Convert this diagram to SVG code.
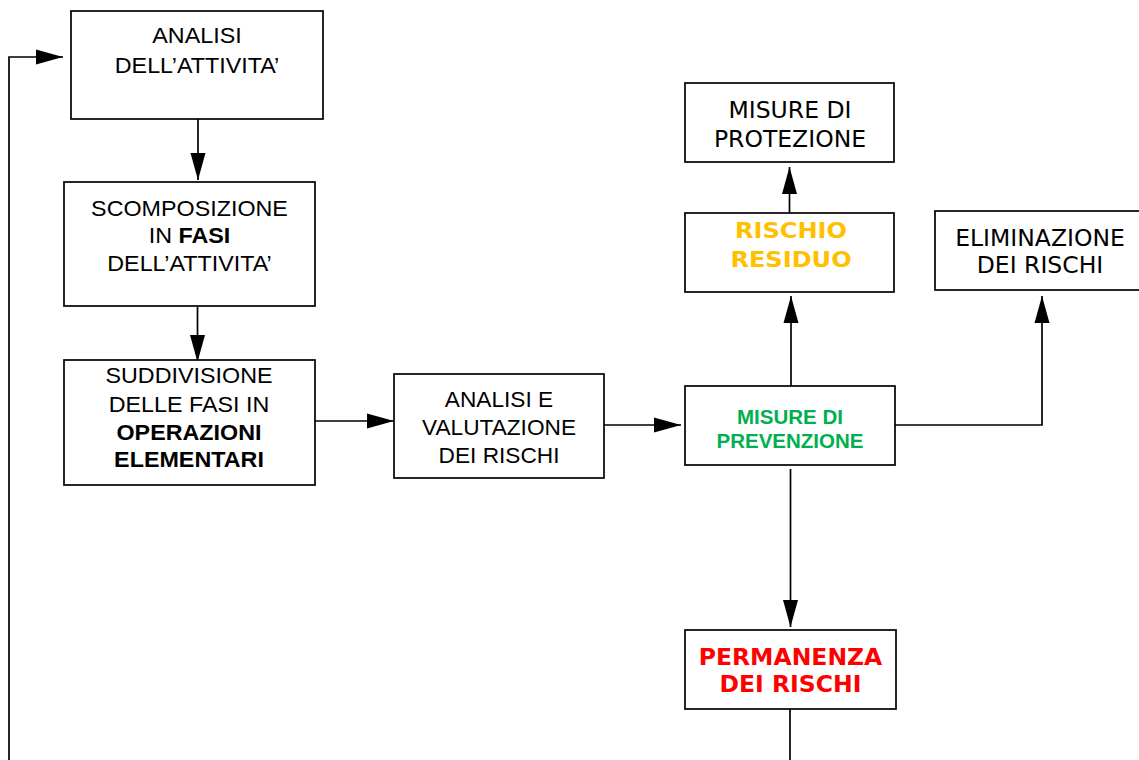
<svg xmlns="http://www.w3.org/2000/svg" width="1139" height="760" viewBox="0 0 1139 760">
  <style>
    .box { fill: #ffffff; stroke: #000000; stroke-width: 1.7; }
    .conn { fill: none; stroke: #000000; stroke-width: 1.7; }
    .arial { font-family: "Liberation Sans", Arial, sans-serif; font-size: 22px; fill: #000000; text-anchor: middle; }
    .b { font-weight: bold; }
    .verd { font-family: "DejaVu Sans", Verdana, sans-serif; font-size: 23.5px; fill: #000000; text-anchor: middle; }
    .verdb { font-family: "DejaVu Sans", Verdana, sans-serif; font-weight: bold; text-anchor: middle; }
    .green { font-family: "Liberation Sans", Arial, sans-serif; font-weight: bold; font-size: 20.5px; fill: #00B050; text-anchor: middle; }
  </style>
  <defs>
    <marker id="arrow" markerUnits="userSpaceOnUse" markerWidth="28" markerHeight="16" refX="27" refY="8" orient="auto">
      <path d="M0,0.5 L27,8 L0,15.5 z" fill="#000000"/>
    </marker>
  </defs>
  <rect width="1139" height="760" fill="#ffffff"/>

  <g id="connectors">
    <polyline class="conn" points="9,760 9,57 63,57" marker-end="url(#arrow)"/>
    <line class="conn" x1="198" y1="119" x2="198" y2="180" marker-end="url(#arrow)"/>
    <line class="conn" x1="197.5" y1="307" x2="197.5" y2="362" marker-end="url(#arrow)"/>
    <line class="conn" x1="315" y1="421" x2="394" y2="421" marker-end="url(#arrow)"/>
    <line class="conn" x1="602" y1="425" x2="681" y2="425" marker-end="url(#arrow)"/>
    <line class="conn" x1="791" y1="386" x2="791" y2="296" marker-end="url(#arrow)"/>
    <line class="conn" x1="789.5" y1="213" x2="789.5" y2="167" marker-end="url(#arrow)"/>
    <polyline class="conn" points="895,425 1042,425 1042,296" marker-end="url(#arrow)"/>
    <line class="conn" x1="790.5" y1="469" x2="790.5" y2="627" marker-end="url(#arrow)"/>
    <line class="conn" x1="790" y1="709" x2="790" y2="760"/>
  </g>

  <g id="analisi-attivita">
    <rect class="box" x="71" y="11" width="252" height="108"/>
    <g transform="translate(197 0) scale(1.06 1)">
      <text class="arial" x="0" y="43.5">ANALISI</text>
      <text class="arial" x="0" y="73">DELL’ATTIVITA’</text>
    </g>
  </g>

  <g id="scomposizione">
    <rect class="box" x="64" y="182" width="251" height="124"/>
    <g transform="translate(189.5 0) scale(1.06 1)">
      <text class="arial" x="0" y="216">SCOMPOSIZIONE</text>
      <text class="arial" x="0" y="243.5">IN <tspan class="b">FASI</tspan></text>
      <text class="arial" x="0" y="271">DELL’ATTIVITA’</text>
    </g>
  </g>

  <g id="suddivisione">
    <rect class="box" x="64" y="360" width="251" height="125"/>
    <g transform="translate(189 0) scale(1.06 1)">
      <text class="arial" x="0" y="383.5">SUDDIVISIONE</text>
      <text class="arial" x="0" y="412">DELLE FASI IN</text>
      <text class="arial b" x="0" y="440">OPERAZIONI</text>
      <text class="arial b" x="0" y="467">ELEMENTARI</text>
    </g>
  </g>

  <g id="analisi-valutazione">
    <rect class="box" x="394" y="374" width="210" height="104"/>
    <g transform="translate(499 0) scale(1.03 1)">
      <text class="arial" x="0" y="407">ANALISI E</text>
      <text class="arial" x="0" y="435">VALUTAZIONE</text>
      <text class="arial" x="0" y="463">DEI RISCHI</text>
    </g>
  </g>

  <g id="misure-protezione">
    <rect class="box" x="685" y="83" width="209" height="79"/>
    <text class="verd" x="790" y="118">MISURE DI</text>
    <text class="verd" x="790" y="147">PROTEZIONE</text>
  </g>

  <g id="rischio-residuo">
    <rect class="box" x="685" y="213" width="209" height="79"/>
    <g transform="translate(791 0) scale(1.12 1)">
      <text class="verdb" x="0" y="238" font-size="21.5" fill="#FFC000">RISCHIO</text>
      <text class="verdb" x="0" y="267" font-size="21.5" fill="#FFC000">RESIDUO</text>
    </g>
  </g>

  <g id="eliminazione">
    <rect class="box" x="935" y="211" width="210" height="79"/>
    <text class="verd" x="1040" y="246">ELIMINAZIONE</text>
    <text class="verd" x="1040" y="273">DEI RISCHI</text>
  </g>

  <g id="misure-prevenzione">
    <rect class="box" x="685" y="386" width="210" height="79"/>
    <text class="green" x="790" y="424">MISURE DI</text>
    <text class="green" x="790" y="448">PREVENZIONE</text>
  </g>

  <g id="permanenza">
    <rect class="box" x="685" y="630" width="211" height="79"/>
    <text class="verdb" x="790.5" y="665" font-size="23.5" fill="#FF0000">PERMANENZA</text>
    <text class="verdb" x="790.5" y="692" font-size="23.5" fill="#FF0000">DEI RISCHI</text>
  </g>
</svg>
